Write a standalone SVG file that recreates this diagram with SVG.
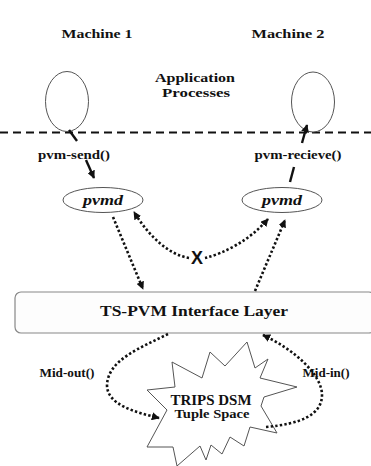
<svg xmlns="http://www.w3.org/2000/svg" width="371" height="466" viewBox="0 0 371 466">
<defs>
<style>
.t{font-family:"Liberation Serif","Times New Roman",serif;font-weight:bold;fill:#111;text-anchor:middle}
.node{fill:#fff;stroke:#555;stroke-width:1}
.dot{fill:none;stroke:#111;stroke-width:2.6;stroke-dasharray:2.4 2.2}
.solid{fill:none;stroke:#111;stroke-width:2.4}
</style>
<marker id="ah" viewBox="0 0 10 10" refX="9" refY="5" markerWidth="8" markerHeight="8" markerUnits="userSpaceOnUse" orient="auto">
<path d="M0,0 L10,5 L0,10 z" fill="#111"/>
</marker>
</defs>
<rect width="371" height="466" fill="#fff"/>

<text class="t" x="97" y="38" font-size="13" textLength="71" lengthAdjust="spacingAndGlyphs">Machine 1</text>
<text class="t" x="288" y="38" font-size="13" textLength="73" lengthAdjust="spacingAndGlyphs">Machine 2</text>
<text class="t" x="195" y="82" font-size="13" textLength="80" lengthAdjust="spacingAndGlyphs">Application</text>
<text class="t" x="196" y="97" font-size="13" textLength="68" lengthAdjust="spacingAndGlyphs">Processes</text>

<line x1="0" y1="132.5" x2="371" y2="132.5" stroke="#111" stroke-width="2" stroke-dasharray="8 5"/>

<g id="machine1">
<ellipse class="node" cx="67" cy="101.5" rx="21.5" ry="30"/>
</g>
<g id="machine2">
<ellipse class="node" cx="313" cy="102" rx="21.5" ry="30"/>
</g>

<g id="pvmd1">
<ellipse class="node" cx="103" cy="200" rx="40" ry="12.5" stroke="#666"/>
<text class="t" x="103" y="205" font-size="15" font-style="italic" textLength="40" lengthAdjust="spacingAndGlyphs">pvmd</text>
</g>
<g id="pvmd2">
<ellipse class="node" cx="282" cy="200" rx="40" ry="12.5" stroke="#666"/>
<text class="t" x="282" y="205" font-size="15" font-style="italic" textLength="40" lengthAdjust="spacingAndGlyphs">pvmd</text>
</g>

<g id="interface">
<rect x="15" y="292" width="360" height="41" rx="6" fill="#fdfdfd" stroke="#888" stroke-width="1.2"/>
<text class="t" x="194" y="316" font-size="15.5" textLength="188" lengthAdjust="spacingAndGlyphs">TS-PVM Interface Layer</text>
</g>

<g id="tuplespace">
<polygon class="node" points="147,390 175,387 172,362 202,378 210,352 225,366 247,342 255,368 268,359 260,378 297,387 264,397 261,406 277,433 250,427 244,446 230,437 222,454 211,445 206,460 200,446 177,466 173,447 147,447 167,410"/>
<text class="t" x="211" y="405" font-size="14.5" textLength="81" lengthAdjust="spacingAndGlyphs">TRIPS DSM</text>
<text class="t" x="212" y="418" font-size="12.5" textLength="75" lengthAdjust="spacingAndGlyphs">Tuple Space</text>
</g>

<g id="connectors">
<line class="solid" x1="69" y1="130" x2="77" y2="141"/>
<line class="solid" x1="86" y1="160" x2="94" y2="178" marker-end="url(#ah)"/>
<line class="solid" x1="302" y1="143" x2="307" y2="125" marker-end="url(#ah)"/>
<line class="solid" x1="290" y1="182" x2="294" y2="167"/>
<path class="dot" d="M113,217 L143,289" marker-end="url(#ah)"/>
<path class="dot" d="M255,291 L285,220" marker-end="url(#ah)"/>
<path class="dot" d="M189,258 C170,255 150,238 134,212" marker-end="url(#ah)"/>
<path class="dot" d="M205,258 C225,253 250,240 268,219" marker-end="url(#ah)"/>
<path class="dot" d="M168,334 C140,348 108,360 107,385 C107,405 135,412 159,418" marker-end="url(#ah)"/>
<path class="dot" d="M266,427 C300,424 322,415 322,395 C322,375 295,350 263,335" marker-end="url(#ah)"/>
</g>

<text x="197" y="264" font-family="Liberation Sans, sans-serif" font-weight="bold" font-size="18" fill="#111" text-anchor="middle">X</text>

<text class="t" x="74" y="159" font-size="12.5" textLength="72" lengthAdjust="spacingAndGlyphs">pvm-send()</text>
<text class="t" x="298" y="159" font-size="12.5" textLength="87" lengthAdjust="spacingAndGlyphs">pvm-recieve()</text>
<text class="t" x="67" y="377" font-size="11.5" textLength="55" lengthAdjust="spacingAndGlyphs">Mid-out()</text>
<text class="t" x="326" y="377" font-size="11.5" textLength="47" lengthAdjust="spacingAndGlyphs">Mid-in()</text>
</svg>
